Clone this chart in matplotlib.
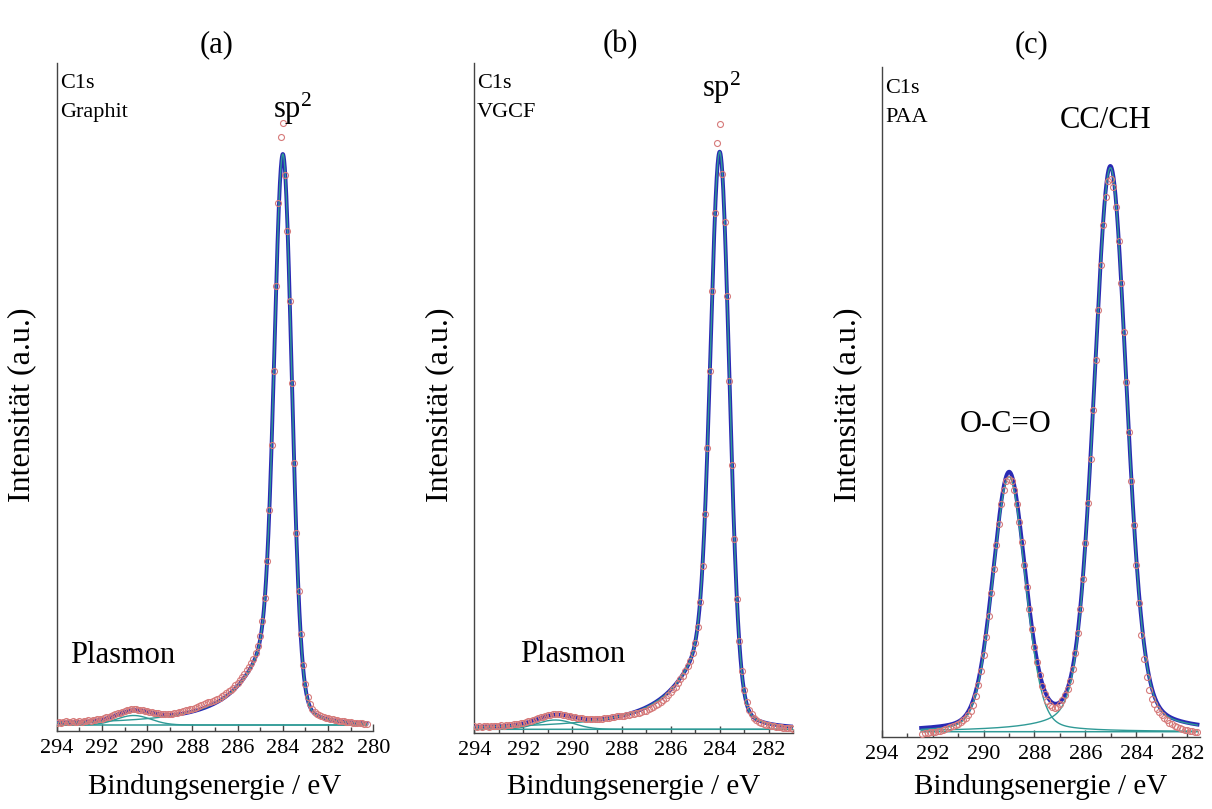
import numpy as np
import matplotlib
matplotlib.use("Agg")
import matplotlib.pyplot as plt
from matplotlib.ticker import MultipleLocator

plt.rcParams['font.family'] = ['Liberation Serif', 'DejaVu Serif']
plt.rcParams['mathtext.fontset'] = 'custom'
plt.rcParams['mathtext.rm'] = 'Liberation Serif'
plt.rcParams['mathtext.it'] = 'Liberation Serif:italic'
W, H = 1212, 809

a_E = np.round(np.arange(294.0, 280.25, -0.1), 1)          # Graphit
a_I = [8, 9, 8, 9, 10, 9, 9, 10, 9, 9,
       10, 9, 10, 10, 11, 10, 11, 11, 12, 12,
       12, 13, 14, 14, 15, 16, 17, 18, 18, 19,
       20, 21, 21, 22, 22, 22, 21, 21, 21, 20,
       20, 19, 19, 18, 18, 18, 17, 17, 17, 17,
       17, 17, 18, 18, 19, 19, 20, 21, 21, 22,
       22, 23, 24, 25, 26, 27, 28, 29, 29, 30,
       31, 32, 33, 35, 36, 38, 40, 41, 43, 46,
       48, 51, 54, 57, 61, 64, 68, 72, 78, 85,
       95, 110, 133, 170, 221, 286, 360, 445, 528, 594,
       608, 556, 500, 430, 348, 268, 198, 140, 97, 66,
       47, 34, 27, 22, 19, 17, 16, 15, 14, 13,
       13, 12, 12, 11, 11, 10, 10, 10, 9, 9,
       9, 8, 8, 8, 8, 8, 7, 7]

b_E = np.round(np.arange(294.0, 280.95, -0.1), 1)          # VGCF
b_I = [7, 6, 7, 6, 7, 7, 6, 7, 7, 7,
       7, 8, 7, 8, 8, 8, 9, 9, 9, 10,
       10, 11, 12, 12, 13, 14, 15, 16, 16, 17,
       18, 18, 19, 19, 19, 19, 18, 18, 17, 17,
       16, 16, 15, 15, 15, 14, 14, 14, 14, 14,
       14, 14, 14, 15, 15, 15, 16, 16, 17, 17,
       17, 17, 18, 18, 19, 19, 20, 20, 21, 22,
       22, 24, 25, 26, 28, 29, 31, 33, 35, 38,
       41, 44, 46, 50, 54, 57, 62, 67, 72, 80,
       90, 106, 131, 167, 219, 285, 362, 442, 520, 590,
       609, 559, 511, 437, 352, 268, 194, 134, 92, 62,
       43, 31, 23, 19, 15, 13, 11, 10, 9, 8,
       8, 7, 7, 6, 6, 6, 5, 5, 5, 5, 4]

c_E = np.round(np.arange(292.4, 281.55, -0.1), 1)          # PAA
c_I = [3, 4, 4, 5, 5, 5, 6, 6, 7, 8,
       9, 10, 11, 12, 13, 15, 17, 19, 22, 26,
       32, 41, 52, 66, 82, 100, 121, 144, 168, 192,
       213, 233, 247, 256, 258, 256, 247, 233, 215, 195,
       172, 150, 128, 108, 90, 75, 62, 51, 43, 36,
       32, 30, 29, 30, 33, 37, 42, 48, 56, 68,
       84, 104, 128, 158, 194, 234, 278, 327, 377, 427,
       472, 512, 540, 556, 558, 550, 530, 496, 454, 405,
       355, 305, 256, 212, 172, 134, 102, 78, 60, 47,
       38, 33, 28, 25, 22, 19, 17, 14, 13, 11,
       10, 9, 8, 7, 7, 6, 6, 5, 5]

# ---------------- fit parameters ----------------
# asymmetric peak: centre, height, Gauss HWHM / Lorentz fraction / Lorentz HWHM (high-BE side, then low-BE side)
a_bg = 6.0
a_sp2 = [284.0, 571.0, 0.429, 0.19, 1.5, 0.459, 0.12, 0.6]
a_pl = [290.6, 9.5, 1.8, 0.0]          # centre, height, FWHM, Lorentz fraction
b_bg = 3.4
b_sp2 = [284.0, 577.6, 0.429, 0.19, 1.5, 0.459, 0.12, 0.6]
b_pl = [290.7, 9.3, 1.8, 0.0]
c_bg = 5.0
c_oco = [289.0, 255.0, 1.5, 0.2]
c_cc = [285.02, 564.0, 1.52, 0.25]


def gl(E, c, h, fwhm, eta):
    d = (E - c) / (fwhm / 2)
    return h * ((1 - eta) * np.exp(-np.log(2) * d ** 2) + eta / (1 + d ** 2))


def asym(E, c, h, wg_hi, eta_hi, wl_hi, wg_lo, eta_lo, wl_lo):
    d = E - c
    hi = h * ((1 - eta_hi) * np.exp(-np.log(2) * (d / wg_hi) ** 2) + eta_hi / (1 + (d / wl_hi) ** 2))
    lo = h * ((1 - eta_lo) * np.exp(-np.log(2) * (d / wg_lo) ** 2) + eta_lo / (1 + (d / wl_lo) ** 2))
    return np.where(d >= 0, hi, lo)


fig = plt.figure(figsize=(W / 100, H / 100), dpi=100)


def px_axes(l, r, t, b):
    return fig.add_axes([l / W, 1 - b / H, (r - l) / W, (b - t) / H])


def setup(ax, x0, x1, ytop):
    ax.set_xlim(x0, x1)
    ax.set_ylim(0, ytop)
    for s in ['top', 'right']:
        ax.spines[s].set_visible(False)
    for s in ['left', 'bottom']:
        ax.spines[s].set_color('#444444')
        ax.spines[s].set_linewidth(1.0)
    ax.set_yticks([])
    ax.xaxis.set_major_locator(MultipleLocator(2))
    ax.xaxis.set_minor_locator(MultipleLocator(1))
    ax.tick_params(axis='x', which='major', direction='in', length=5, width=1.0,
                   color='#444444', labelsize=16, pad=6)
    ax.tick_params(axis='x', which='minor', direction='in', length=3, width=1.0, color='#444444')
    ax.patch.set_alpha(0)


def ft(x, y, s, size, ha='left', va='baseline', rot=0):
    fig.text(x / W, 1 - y / H, s, fontsize=size, ha=ha, va=va, rotation=rot)


ENV = '#2a2ab4'
CMP = '#2f9a96'
DOT = '#d67a7a'


def draw(ax, E, I, Ef, bg, comps):
    bgf = np.full_like(Ef, bg)
    env = bgf + sum(comps)
    ax.plot(E, I, 'o', ms=4.3, mfc='none', mec=DOT, mew=0.8, zorder=5)
    ax.plot(Ef, env, color=ENV, lw=2.8, zorder=3)
    for cpt in comps:
        ax.plot(Ef, bgf + cpt, color=CMP, lw=1.0, zorder=4)
    ax.plot(Ef, bgf, color=CMP, lw=1.1, zorder=4)


# panel a
ax = px_axes(56.7, 373.3, 63, 731)
setup(ax, 294, 280, 668)
Ef = np.linspace(a_E[0], a_E[-1], 1400)
draw(ax, a_E, a_I, Ef, a_bg, [asym(Ef, *a_sp2), gl(Ef, *a_pl)])

# panel b
ax = px_axes(474.3, 793.3, 63, 732.7)
setup(ax, 294, 281, 669.7)
Ef = np.linspace(b_E[0], b_E[-1], 1400)
draw(ax, b_E, b_I, Ef, b_bg, [asym(Ef, *b_sp2), gl(Ef, *b_pl)])

# panel c
ax = px_axes(881.7, 1200, 67, 736.7)
setup(ax, 294, 281.5, 669.7)
Ef = np.linspace(292.45, c_E[-1], 1400)
draw(ax, c_E, c_I, Ef, c_bg, [gl(Ef, *c_oco), gl(Ef, *c_cc)])

# texts
ft(217, 45, '(a)', 22, ha='center', va='center')
ft(620, 45, '(b)', 22, ha='center', va='center')
ft(1032, 45, '(c)', 22, ha='center', va='center')
ft(60, 87.7, 'C1s', 16)
ft(60, 116.7, 'Graphit', 16)
ft(477, 87.7, 'C1s', 16)
ft(477, 116.7, 'VGCF', 16)
ft(885, 93.3, 'C1s', 16)
ft(885, 121.7, 'PAA', 16)
ft(273, 118.3, r'$\mathrm{sp}^{2}$', 22)
ft(702, 97, r'$\mathrm{sp}^{2}$', 22)
ft(70, 663.3, 'Plasmon', 22)
ft(520, 661.7, 'Plasmon', 22)
ft(1060, 128.3, 'CC/CH', 22)
ft(960, 432.3, 'O-C=O', 22)
for xc in [215, 633.8, 1040.8]:
    ft(xc, 787, 'Bindungsenergie / eV', 21, ha='center', va='center')
for xc in [22, 440, 848]:
    ft(xc, 405, 'Intensität (a.u.)', 23, ha='center', va='center', rot=90)

fig.savefig('out.png', dpi=100)
